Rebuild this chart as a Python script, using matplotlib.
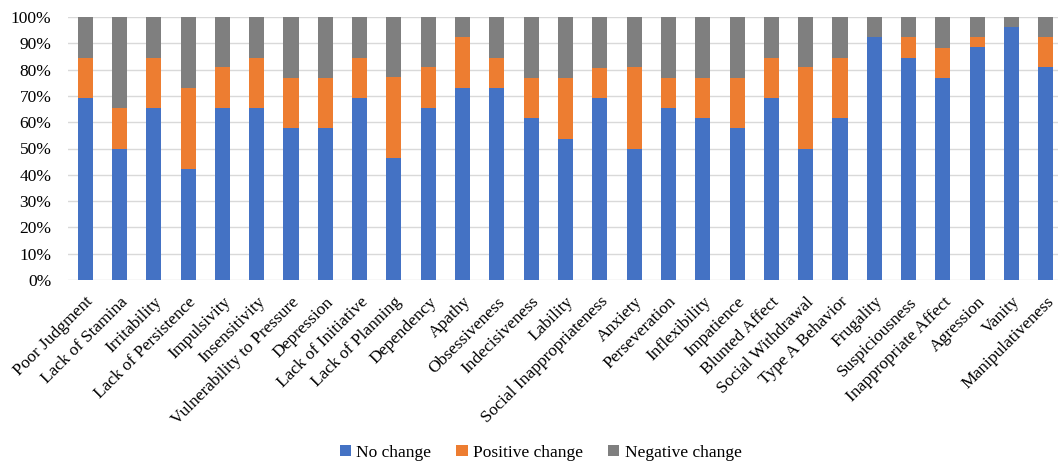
import numpy as np
import matplotlib
matplotlib.use("Agg")
import matplotlib.pyplot as plt
from matplotlib.ticker import PercentFormatter

# Share of participants per symptom (%), one entry per category
categories = [
    "Poor Judgment", "Lack of Stamina", "Irritability", "Lack of Persistence",
    "Impulsivity", "Insensitivity", "Vulnerability to Pressure", "Depression",
    "Lack of Initiative", "Lack of Planning", "Dependency", "Apathy",
    "Obsessiveness", "Indecisiveness", "Lability", "Social Inappropriateness",
    "Anxiety", "Perseveration", "Inflexibility", "Impatience", "Blunted Affect",
    "Social Withdrawal", "Type A Behavior", "Frugality", "Suspiciousness",
    "Inappropriate Affect", "Agression", "Vanity", "Manipulativeness",
]
no_change = [69.2, 50.0, 65.4, 42.3, 65.4, 65.4, 57.7, 57.7, 69.2, 46.2,
             65.4, 73.1, 73.1, 61.5, 53.8, 69.2, 50.0, 65.4, 61.5, 57.7,
             69.2, 50.0, 61.5, 92.3, 84.6, 76.9, 88.5, 96.2, 80.8]
positive_change = [15.4, 15.4, 19.2, 30.8, 15.4, 19.2, 19.2, 19.2, 15.4, 30.8,
                   15.4, 19.2, 11.5, 15.4, 23.1, 11.5, 30.8, 11.5, 15.4, 19.2,
                   15.4, 30.8, 23.1, 0.0, 7.7, 11.5, 3.8, 0.0, 11.5]
negative_change = [15.4, 34.6, 15.4, 26.9, 19.2, 15.4, 23.1, 23.1, 15.4, 23.1,
                   19.2, 7.7, 15.4, 23.1, 23.1, 19.2, 19.2, 23.1, 23.1, 23.1,
                   15.4, 19.2, 15.4, 7.7, 7.7, 11.5, 7.7, 3.8, 7.7]

plt.rcParams["font.family"] = ["Liberation Serif", "DejaVu Serif"]

fig = plt.figure(figsize=(10.58, 4.62), dpi=100)
ax = fig.add_axes([68 / 1058, 1 - 280 / 462, 995 / 1058, 263 / 462])

x = np.arange(len(categories))
w = 0.44
no = np.array(no_change)
pos = np.array(positive_change)
neg = np.array(negative_change)

ax.bar(x, no, w, color="#4472C4", label="No change", zorder=3)
ax.bar(x, pos, w, bottom=no, color="#ED7D31", label="Positive change", zorder=3)
ax.bar(x, neg, w, bottom=no + pos, color="#7F7F7F", label="Negative change", zorder=3)

ax.set_xlim(-0.5, len(categories) - 0.5)
ax.set_ylim(0, 100)
ax.set_yticks(np.arange(0, 101, 10))
ax.yaxis.set_major_formatter(PercentFormatter(decimals=0))
ax.grid(axis="y", color="#D9D9D9", linewidth=1, zorder=0)
for s in ax.spines.values():
    s.set_visible(False)
ax.tick_params(axis="both", length=0, labelsize=12.5)
ax.tick_params(axis="y", pad=12)

ax.set_xticks(x)
ax.set_xticklabels(categories, rotation=45, ha="right", rotation_mode="anchor")
ax.tick_params(axis="x", pad=10)

fig.legend(loc="center", bbox_to_anchor=(0.511, 0.02), ncol=3, frameon=False,
           fontsize=12.5, handlelength=0.65, handleheight=0.65, handletextpad=0.3,
           columnspacing=1.45)

fig.savefig("out.png", dpi=100)
